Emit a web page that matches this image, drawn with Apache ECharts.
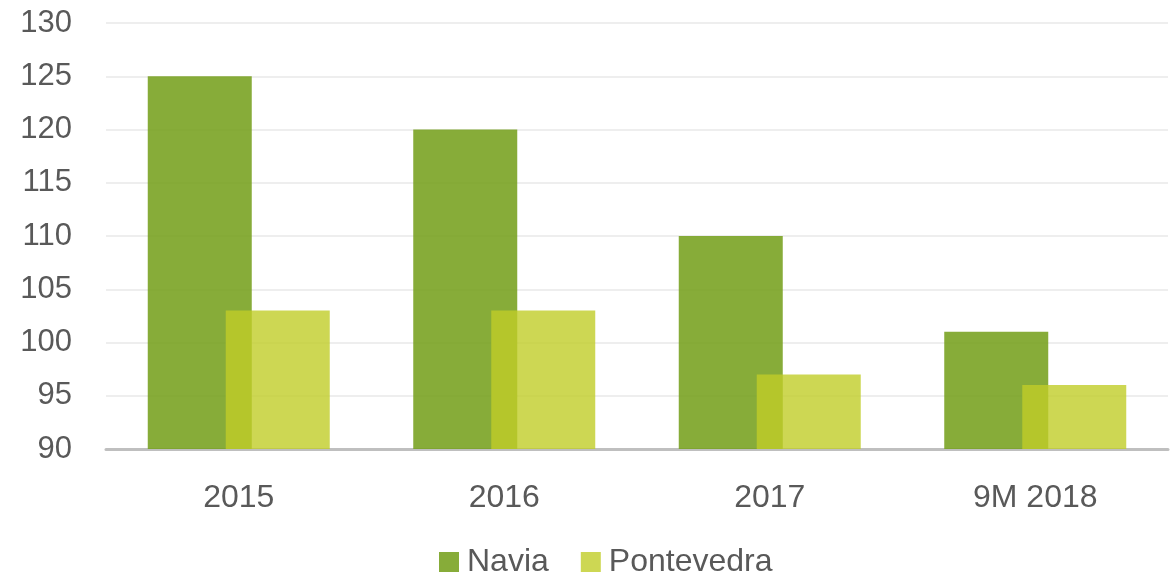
<!DOCTYPE html>
<html>
<head>
<meta charset="utf-8">
<style>
  html, body { margin: 0; padding: 0; background: #fff; }
  #chart { width: 1176px; height: 577px; }
</style>
<script src="https://cdn.jsdelivr.net/npm/echarts@6/dist/echarts.min.js"></script>
</head>
<body>
<div id="chart"></div>
<script>
const categories = ["2015", "2016", "2017", "9M 2018"]
const navia = [125, 120, 110, 101]
const pontevedra = [103, 103, 97, 96]

const chart = echarts.init(document.getElementById("chart"))

const option = {
  animation: false,
  grid: { left: 106, right: 8, top: 23, bottom: 128, containLabel: false },
  legend: {
    bottom: -6,
    left: 434,
    itemWidth: 20,
    itemHeight: 20,
    itemGap: 32,
    icon: "rect",
    textStyle: { fontFamily: "Liberation Sans", fontSize: 32, color: "#595959", padding: [0, 0, 0, 3] },
    data: ["Navia", "Pontevedra"]
  },
  xAxis: {
    type: "category",
    data: categories,
    axisTick: { show: false },
    axisLine: { lineStyle: { color: "#bfbfbf", width: 3 } },
    axisLabel: { margin: 33, fontFamily: "Liberation Sans", fontSize: 32, color: "#595959" }
  },
  yAxis: {
    type: "value",
    min: 90,
    max: 130,
    interval: 5,
    axisLine: { show: false },
    axisTick: { show: false },
    splitLine: { lineStyle: { color: "#eeeeee", width: 2 } },
    axisLabel: { margin: 34, fontFamily: "Liberation Sans", fontSize: 31, color: "#595959" }
  },
  series: [
    {
      name: "Navia",
      type: "bar",
      data: navia,
      barWidth: 104,
      barGap: "-25%",
      itemStyle: { color: "rgba(118,160,30,0.88)" }
    },
    {
      name: "Pontevedra",
      type: "bar",
      data: pontevedra,
      barWidth: 104,
      barGap: "-25%",
      itemStyle: { color: "rgba(192,205,40,0.8)" }
    }
  ]
}

chart.setOption(option)
</script>
</body>
</html>
